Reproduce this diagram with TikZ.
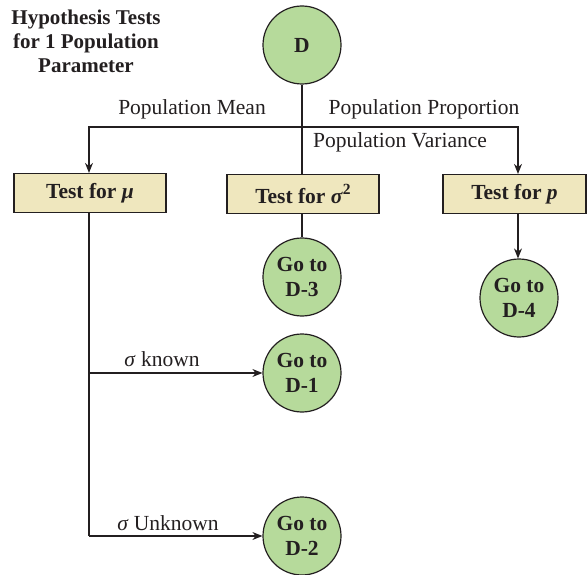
\documentclass[tikz,border=0pt]{standalone}
\usepackage{fontspec}
\setmainfont{Liberation Serif}
\usetikzlibrary{arrows.meta}
\definecolor{nodegreen}{RGB}{182,218,155}
\definecolor{boxbeige}{RGB}{239,231,190}
\definecolor{ink}{RGB}{35,31,32}
\newcommand{\sqsup}{\raisebox{0.42em}{\fontsize{15.5}{16}\selectfont 2}}
\begin{document}
\begin{tikzpicture}[x=1pt,y=-1pt,
  line width=1.2pt, draw=ink,
  every node/.style={text=ink},
  circ/.style={circle, draw=ink, fill=nodegreen, minimum size=78pt, inner sep=0pt,
    align=center, font=\fontsize{21.5}{25}\selectfont\bfseries},
  testbox/.style={draw=ink, fill=boxbeige, minimum height=39pt, inner sep=0pt,
    font=\fontsize{21.5}{25}\selectfont\bfseries},
  lbl/.style={font=\fontsize{21.5}{25}\selectfont, inner sep=0pt},
  arr/.style={-{Stealth[length=10pt,width=8pt]}}]
\useasboundingbox (0,0) rectangle (587,575);

% title
\node[align=center, font=\fontsize{21}{24}\selectfont\bfseries, inner sep=0pt] (title) at (86,41)
  {Hypothesis Tests\\for 1 Population\\Parameter};

% root
\node[circ] (D) at (302,45) {D};

% test boxes
\node[testbox, minimum width=152pt] (mu) at (90,193) {Test for \textit{μ}};
\node[testbox, minimum width=152pt] (var) at (303,194) {Test for \textit{σ}\sqsup};
\node[testbox, minimum width=143pt] (prop) at (514.5,194) {Test for \textit{p}};

% end circles
\node[circ] (D3) at (302,277) {Go to\\D-3};
\node[circ] (D4) at (519,298) {Go to\\D-4};
\node[circ] (D1) at (302,373) {Go to\\D-1};
\node[circ] (D2) at (302,536) {Go to\\D-2};

% branch points
\coordinate (hub) at (302,127);
\coordinate (muend) at (89,536);
\coordinate (kn) at (89,373);

% root branches
\draw (D.south) -- (D.south |- var.north);
\draw[arr] (hub) -| (mu.north -| 89,0);
\draw[arr] (hub) -| (prop.north -| 518,0);

% downstream connectors
\draw (D3.north |- var.south) -- (D3.north);
\draw[arr] (prop.south -| 518,0) -- (D4.north -| 518,0);
\draw (mu.south -| 89,0) -- (muend);
\draw[arr] (kn) -- (D1.west);
\draw[arr] (muend) -- (D2.west);

% labels
\node[lbl] (lmean) at (192,109) {Population Mean};
\node[lbl] (lprop) at (424,109) {Population Proportion};
\node[lbl] (lvar) at (400,142) {Population Variance};
\node[lbl] (lkn) at (162,359) {\textit{σ} known};
\node[lbl] (lunk) at (168,523) {\textit{σ} Unknown};
\end{tikzpicture}
\end{document}
